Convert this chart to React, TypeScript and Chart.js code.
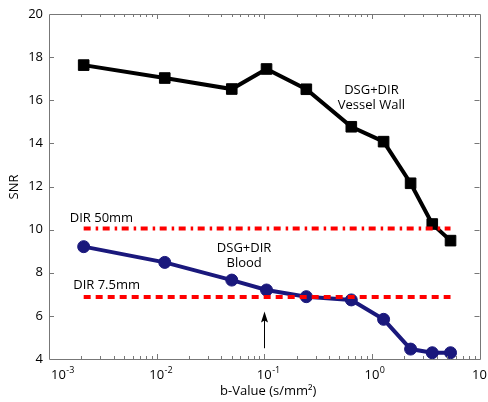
import React, { useEffect, useRef } from "react";
import { Chart, registerables } from "chart.js";

Chart.register(...registerables);

// ---- data ----
const bValues = [0.0021, 0.0119, 0.0499, 0.105, 0.246, 0.644, 1.285, 2.29, 3.64, 5.38];
const vesselWallSNR = [17.63, 17.03, 16.52, 17.45, 16.51, 14.77, 14.08, 12.15, 10.26, 9.49];
const bloodSNR = [9.21, 8.48, 7.66, 7.2, 6.89, 6.74, 5.84, 4.46, 4.29, 4.29];
const dir50Level = 10.05;
const dir75Level = 6.87;
const refLineRange = [0.0021, 5.38];
const xTickExponents = [-3, -2, -1, 0, 1];
const yTicks = [4, 6, 8, 10, 12, 14, 16, 18, 20];
const arrowB = 0.1;
const arrowFrom = 4.5;
const arrowTo = 6.2;

const FONT = '"Open Sans", "DejaVu Sans", sans-serif';
const AXIS_COLOR = "#777777";
const BLUE = "#1a187c";

const annotations = [
  { lines: ["DSG+DIR", "Vessel Wall"], x: 0.99, y: 16.47 },
  { lines: ["DSG+DIR", "Blood"], x: 0.065, y: 9.15 },
  { lines: ["DIR 50mm"], x: 0.00307, y: 10.54 },
  { lines: ["DIR 7.5mm"], x: 0.00343, y: 7.43 },
];

const overlayPlugin = {
  id: "overlay",
  afterDraw(chart: any) {
    const ctx = chart.ctx as CanvasRenderingContext2D;
    const xs = chart.scales.x;
    const ys = chart.scales.y;
    const { left, right, top, bottom } = chart.chartArea;
    ctx.save();
    // box
    ctx.strokeStyle = AXIS_COLOR;
    ctx.lineWidth = 1;
    ctx.beginPath();
    ctx.rect(Math.round(left) + 0.5, Math.round(top) + 0.5, Math.round(right - left), Math.round(bottom - top));
    ctx.stroke();
    // x ticks
    ctx.beginPath();
    for (let e = -3; e <= 1; e++) {
      for (let k = 1; k <= 9; k++) {
        const v = k * Math.pow(10, e);
        if (v > 10.0001) continue;
        const px = Math.round(xs.getPixelForValue(v)) + 0.5;
        if (px <= left + 1 || px >= right - 1) continue;
        const len = k === 1 ? 5 : 3;
        ctx.moveTo(px, bottom);
        ctx.lineTo(px, bottom - len);
        ctx.moveTo(px, top);
        ctx.lineTo(px, top + len);
      }
    }
    // y ticks
    for (const t of yTicks) {
      const py = Math.round(ys.getPixelForValue(t)) + 0.5;
      if (py <= top + 1 || py >= bottom - 1) continue;
      ctx.moveTo(left, py);
      ctx.lineTo(left + 5, py);
      ctx.moveTo(right, py);
      ctx.lineTo(right - 5, py);
    }
    ctx.stroke();

    ctx.fillStyle = "#000000";
    // y tick labels
    ctx.font = `13px ${FONT}`;
    ctx.textAlign = "right";
    ctx.textBaseline = "middle";
    for (const t of yTicks) {
      ctx.fillText(String(t), left - 6, ys.getPixelForValue(t));
    }
    // x tick labels with superscripts
    ctx.textAlign = "left";
    ctx.textBaseline = "alphabetic";
    for (const ex of xTickExponents) {
      const px = xs.getPixelForValue(Math.pow(10, ex));
      ctx.font = `13px ${FONT}`;
      const w10 = ctx.measureText("10").width;
      let lx = px - w10 / 2;
      if (lx < left + 2) lx = left + 2;
      ctx.fillText("10", lx, bottom + 20);
      ctx.font = `9px ${FONT}`;
      ctx.fillText(String(ex), lx + w10 + 0.5, bottom + 14);
    }
    // axis titles
    ctx.font = `13px ${FONT}`;
    ctx.textAlign = "center";
    ctx.textBaseline = "middle";
    ctx.fillText("b-Value (s/mm\u00B2)", (left + right) / 2 + 4, bottom + 32);
    ctx.save();
    ctx.translate(14, (top + bottom) / 2 + 0.5);
    ctx.rotate(-Math.PI / 2);
    ctx.fillText("SNR", 0, 0);
    ctx.restore();

    // annotations
    ctx.font = `13px ${FONT}`;
    for (const a of annotations) {
      const px = xs.getPixelForValue(a.x);
      const py = ys.getPixelForValue(a.y);
      a.lines.forEach((ln, i) => {
        ctx.fillText(ln, px, py + i * 15.5);
      });
    }

    // arrow
    const ax = Math.round(xs.getPixelForValue(arrowB)) + 0.5;
    const y0 = ys.getPixelForValue(arrowFrom);
    const y1 = ys.getPixelForValue(arrowTo);
    ctx.strokeStyle = "#000";
    ctx.fillStyle = "#000";
    ctx.lineWidth = 1;
    ctx.beginPath();
    ctx.moveTo(ax, y0);
    ctx.lineTo(ax, y1 + 8);
    ctx.stroke();
    ctx.beginPath();
    ctx.moveTo(ax, y1);
    ctx.lineTo(ax - 3.5, y1 + 11);
    ctx.lineTo(ax, y1 + 9);
    ctx.lineTo(ax + 3.5, y1 + 11);
    ctx.closePath();
    ctx.fill();
    ctx.restore();
  },
};

export default function App() {
  const ref = useRef<HTMLCanvasElement>(null);
  useEffect(() => {
    if (!ref.current) return;
    const pts = (ys: number[]) => bValues.map((b, i) => ({ x: b, y: ys[i] }));
    const chart = new Chart(ref.current, {
      type: "line",
      data: {
        datasets: [
          {
            label: "DIR 50mm",
            data: refLineRange.map((b) => ({ x: b, y: dir50Level })),
            borderColor: "#ff0000",
            borderWidth: 4,
            borderDash: [7, 5, 2.5, 4.5],
            pointRadius: 0,
            fill: false,
          },
          {
            label: "DIR 7.5mm",
            data: refLineRange.map((b) => ({ x: b, y: dir75Level })),
            borderColor: "#ff0000",
            borderWidth: 4,
            borderDash: [7, 5],
            pointRadius: 0,
            fill: false,
          },
          {
            label: "DSG+DIR Vessel Wall",
            data: pts(vesselWallSNR),
            borderColor: "#000000",
            backgroundColor: "#000000",
            borderWidth: 4,
            pointStyle: "rect",
            pointRadius: 7.5,
            pointBorderWidth: 1,
            fill: false,
          },
          {
            label: "DSG+DIR Blood",
            data: pts(bloodSNR),
            borderColor: BLUE,
            backgroundColor: BLUE,
            borderWidth: 4,
            pointStyle: "circle",
            pointRadius: 6,
            pointBorderWidth: 1,
            fill: false,
          },
        ],
      },
      options: {
        responsive: false,
        animation: false,
        devicePixelRatio: 1,
        layout: { padding: { left: 49, top: 14, right: 8, bottom: 43 } },
        plugins: { legend: { display: false }, tooltip: { enabled: false } },
        scales: {
          x: { type: "logarithmic", min: 0.001, max: 10, display: false },
          y: { type: "linear", min: 4, max: 20, display: false },
        },
      },
      plugins: [overlayPlugin],
    });
    return () => chart.destroy();
  }, []);
  return (
    <div style={{ position: "absolute", left: 0, top: 0, width: 488, height: 402, background: "#fff" }}>
      <canvas ref={ref} width={488} height={402} style={{ display: "block" }} />
    </div>
  );
}
